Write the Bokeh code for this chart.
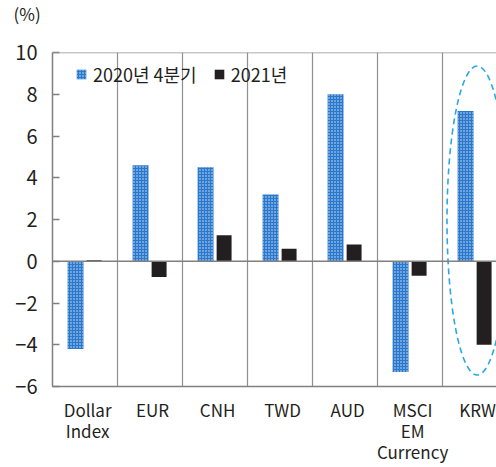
from bokeh.plotting import figure
from bokeh.models import (Range1d, FixedTicker, Span, Title, Legend, LegendItem,
                          ColumnDataSource)
from bokeh.embed import file_html
from bokeh.resources import INLINE

categories = ["Dollar\nIndex", "EUR", "CNH", "TWD", "AUD", "MSCI\nEM\nCurrency", "KRW"]
q4_2020 = [-4.2, 4.6, 4.5, 3.2, 8.0, -5.3, 7.2]
y2021 = [0.05, -0.75, 1.25, 0.6, 0.8, -0.7, -4.0]
y_ticks = [-6, -4, -2, 0, 2, 4, 6, 8, 10]
series_names = ["2020년 4분기", "2021년"]

FONT = "Noto Sans CJK KR"
n = len(categories)
centers = [i + 0.5 for i in range(n)]

p = figure(width=496, height=467, output_backend="svg", toolbar_location=None,
           x_range=Range1d(0, 444 / 65), y_range=Range1d(-6, 10),
           min_border_left=52, min_border_right=0, min_border_top=50,
           min_border_bottom=77)
p.outline_line_color = None
p.background_fill_color = "white"
p.border_fill_color = "white"

src = ColumnDataSource(dict(
    xb=[c - 0.145 for c in centers], xk=[c + 0.14 for c in centers],
    q=q4_2020, k=y2021))

r1 = p.vbar(x="xb", top="q", bottom=0, width=0.245, source=src,
            fill_color="#2a78cc", line_color=None,
            hatch_pattern="dot", hatch_color="#dde9f7", hatch_scale=3.0, hatch_weight=1.5)
r2 = p.vbar(x="xk", top="k", bottom=0, width=0.23, source=src,
            fill_color="#231f20", line_color=None)

# vertical separators
p.xgrid.ticker = FixedTicker(ticks=list(range(1, n + 1)))
p.xgrid.grid_line_color = "#8f8f8f"
p.xgrid.grid_line_width = 1.2
p.ygrid.grid_line_color = None

p.add_layout(Span(location=0, dimension="width", line_color="#808080", line_width=1.5))
p.add_layout(Span(location=10, dimension="width", line_color="#8f8f8f", line_width=1.5))

# highlight ellipse around KRW
p.ellipse(x=[6.534], y=[1.95], width=[0.93], height=[14.8], fill_color=None,
          line_color="#2aa7e0", line_width=1.6, line_dash="6 4")

# axes
p.yaxis.ticker = FixedTicker(ticks=y_ticks)
p.yaxis.major_tick_in = 7
p.yaxis.major_tick_out = 0
p.yaxis.minor_tick_line_color = None
p.yaxis.axis_line_color = "#808080"
p.yaxis.axis_line_width = 1.5
p.yaxis.major_tick_line_color = "#808080"
p.yaxis.major_tick_line_width = 1.5
p.yaxis.major_label_text_font = FONT
p.yaxis.major_label_text_font_size = "20px"
p.yaxis.major_label_text_color = "#231f20"
p.yaxis.major_label_standoff = 15

p.xaxis.ticker = FixedTicker(ticks=[c + 0.04 for c in centers])
p.xaxis.major_label_overrides = {c + 0.04: lab for c, lab in zip(centers, categories)}
p.xaxis.major_tick_line_color = None
p.xaxis.minor_tick_line_color = None
p.xaxis.axis_line_color = "#808080"
p.xaxis.axis_line_width = 1.5
p.xaxis.major_label_text_font = FONT
p.xaxis.major_label_text_font_size = "17px"
p.xaxis.major_label_text_color = "#231f20"
p.xaxis.major_label_standoff = 4
p.xaxis.major_label_text_line_height = 0.85

unit = Title(text="(%)\n ", align="left", offset=-39, standoff=0, vertical_align="top",
             text_font=FONT, text_font_size="17px", text_font_style="normal",
             text_line_height=1.0, text_color="#231f20")
p.add_layout(unit, "above")

legend = Legend(items=[LegendItem(label=series_names[0], renderers=[r1]),
                       LegendItem(label=series_names[1], renderers=[r2])],
                location=(23, 299), orientation="horizontal")
legend.glyph_width = 12
legend.glyph_height = 12
legend.label_height = 14
legend.label_standoff = 6
legend.spacing = 16
legend.padding = 0
legend.margin = 0
legend.border_line_color = None
legend.background_fill_alpha = 0
legend.label_text_font = FONT
legend.label_text_font_size = "18px"
legend.label_text_color = "#231f20"
p.add_layout(legend)

open("out.html", "w").write(file_html(p, INLINE))
